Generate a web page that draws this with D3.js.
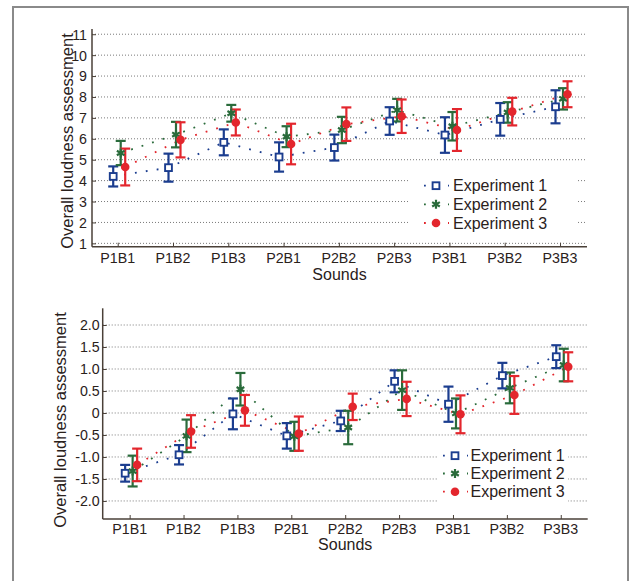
<!DOCTYPE html>
<html><head><meta charset="utf-8">
<script src="https://cdn.jsdelivr.net/npm/d3@7/dist/d3.min.js"></script>
<style>body{margin:0;background:#fff}svg{display:block}text{font-family:"Liberation Sans",Arial,sans-serif;fill:#2a211b}</style>
</head><body><svg id="c" width="630" height="581"></svg>
<script>
const categories = ["P1B1","P1B2","P1B3","P2B1","P2B2","P2B3","P3B1","P3B2","P3B3"];
const seriesNames = ["Experiment 1","Experiment 2","Experiment 3"];
// Top panel: means and error half-lengths
const topExp1 = [4.2, 4.62, 5.83, 5.13, 5.58, 6.85, 6.18, 6.93, 7.53];
const topExp1Err = [0.48, 0.67, 0.62, 0.7, 0.62, 0.66, 0.85, 0.78, 0.79];
const topExp2 = [5.32, 6.2, 7.22, 6.1, 6.42, 7.37, 6.6, 7.26, 7.91];
const topExp2Err = [0.58, 0.61, 0.4, 0.5, 0.63, 0.54, 0.68, 0.49, 0.51];
const topExp3 = [4.65, 5.95, 6.78, 5.75, 6.7, 7.08, 6.42, 7.3, 8.13];
const topExp3Err = [0.88, 0.84, 0.62, 0.97, 0.8, 0.8, 1.0, 0.66, 0.62];
const topTicks = [1,2,3,4,5,6,7,8,9,10,11];
// Bottom panel
const botExp1 = [-1.37, -0.95, -0.02, -0.52, -0.18, 0.72, 0.2, 0.85, 1.28];
const botExp1Err = [0.19, 0.22, 0.35, 0.29, 0.23, 0.25, 0.4, 0.29, 0.26];
const botExp2 = [-1.32, -0.52, 0.54, -0.53, -0.33, 0.52, -0.01, 0.57, 1.09];
const botExp2Err = [0.35, 0.37, 0.37, 0.33, 0.38, 0.45, 0.34, 0.35, 0.37];
const botExp3 = [-1.18, -0.42, 0.06, -0.47, 0.14, 0.32, -0.03, 0.41, 1.05];
const botExp3Err = [0.37, 0.37, 0.35, 0.39, 0.3, 0.39, 0.43, 0.43, 0.33];
const botTicks = [-2, -1.5, -1, -0.5, 0, 0.5, 1, 1.5, 2];

const colors = ["#1b3d8f", "#2a6b3b", "#e3262d"];
const offsets = [-4.5, 3, 7.5];
const svg = d3.select("#c");

// outer frame
svg.append("rect").attr("x",13).attr("y",7).attr("width",615).attr("height",640)
  .attr("fill","none").attr("stroke","#8a8a8a").attr("stroke-width",2);

function marker(g, k, x, y) {
  const c = colors[k];
  if (k === 0) {
    g.append("rect").attr("x", x-3.4).attr("y", y-3.4).attr("width",6.8).attr("height",6.8)
      .attr("fill","#fff").attr("stroke",c).attr("stroke-width",1.9);
  } else if (k === 1) {
    g.append("path").attr("d", d3.symbol(d3.symbolAsterisk, 55)())
      .attr("transform",`translate(${x},${y})`).attr("fill","none").attr("stroke",c).attr("stroke-width",2.2);
    g.append("circle").attr("cx",x).attr("cy",y).attr("r",2).attr("fill",c);
  } else {
    g.append("circle").attr("cx",x).attr("cy",y).attr("r",4.3).attr("fill",c);
  }
}

function panel(cfg) {
  const g = svg.append("g");
  const x = d3.scaleLinear().domain(cfg.xdom).range(cfg.xr);
  const y = d3.scaleLinear().domain(cfg.ydom).range(cfg.yr);
  // gridlines
  g.selectAll(".grid").data(cfg.ticks).join("line")
    .attr("x1", cfg.xr[0]).attr("x2", cfg.xr[1])
    .attr("y1", d=>y(d)).attr("y2", d=>y(d))
    .attr("stroke","#7a7a7a").attr("stroke-width",1).attr("stroke-dasharray","1,2");
  // legend background
  g.append("rect").attr("x",cfg.leg.box[0]).attr("y",cfg.leg.box[1])
    .attr("width",cfg.leg.box[2]).attr("height",cfg.leg.box[3]).attr("fill","#fff");
  // axes
  const ax = d3.axisBottom(x).tickValues(d3.range(1,10)).tickFormat(i=>categories[i-1]).tickSize(-4).tickPadding(0);
  const gx = g.append("g").attr("transform",`translate(0,${cfg.yr[0]})`).call(ax);
  gx.select(".domain").remove();
  gx.selectAll("line").attr("stroke","#4a4038");
  gx.selectAll("text").remove();
  g.append("g").selectAll("text").data(categories).join("text")
    .attr("transform",(d,i)=>`translate(${x(i+1)},${cfg.xLabelY}) scale(0.95,1)`).attr("text-anchor","middle")
    .attr("font-size",15).text(d=>d);
  const ay = d3.axisLeft(y).tickValues(cfg.ticks).tickSize(-4).tickPadding(0);
  const gy = g.append("g").attr("transform",`translate(${cfg.xr[0]},0)`).call(ay);
  gy.select(".domain").remove();
  gy.selectAll("line").attr("stroke","#4a4038");
  gy.selectAll("text").remove();
  g.append("g").selectAll("text").data(cfg.ticks).join("text")
    .attr("transform",d=>`translate(${cfg.xr[0]-cfg.yLabelGap},${y(d)}) scale(0.95,1)`).attr("dy","0.36em")
    .attr("text-anchor","end").attr("font-size",15).text(cfg.fmt);
  g.append("line").attr("x1",cfg.xr[0]).attr("x2",cfg.xr[0]).attr("y1",cfg.yr[0]).attr("y2",cfg.yr[1])
    .attr("stroke","#4a4038").attr("stroke-width",1.5);
  g.append("line").attr("x1",cfg.xr[0]).attr("x2",cfg.xr[1]).attr("y1",cfg.yr[0]).attr("y2",cfg.yr[0])
    .attr("stroke","#4a4038").attr("stroke-width",1.5);
  g.append("text").attr("x",(cfg.xr[0]+cfg.xr[1])/2).attr("y",cfg.soundsY).attr("text-anchor","middle")
    .attr("font-size",16).text("Sounds");
  g.append("text").attr("transform",`translate(${cfg.ylab[0]},${cfg.ylab[1]}) rotate(-90)`)
    .attr("text-anchor","middle").attr("font-size",16.5).text("Overall loudness assessment");

  // series
  cfg.series.forEach((s,k)=>{
    const pts = s.mean.map((m,i)=>[x(i+1)+offsets[k], y(m)]);
    g.append("path").attr("d", d3.line()(pts)).attr("fill","none").attr("stroke",colors[k])
      .attr("stroke-width",1.8).attr("stroke-dasharray","1.8,9.2");
  });
  cfg.series.forEach((s,k)=>{
    const c = colors[k];
    s.mean.forEach((m,i)=>{
      const cx = x(i+1)+offsets[k];
      const y0 = y(m - s.err[i]), y1 = y(m + s.err[i]);
      g.append("line").attr("x1",cx).attr("x2",cx).attr("y1",y0).attr("y2",y1).attr("stroke",c).attr("stroke-width",2.2);
      [y0,y1].forEach(yy=>g.append("line").attr("x1",cx-5).attr("x2",cx+5).attr("y1",yy).attr("y2",yy)
        .attr("stroke",c).attr("stroke-width",2.2));
    });
  });
  cfg.series.forEach((s,k)=>{
    s.mean.forEach((m,i)=>marker(g,k,x(i+1)+offsets[k],y(m)));
  });
  // legend
  seriesNames.forEach((name,k)=>{
    const ly = cfg.leg.rows[k], lx = cfg.leg.mx;
    g.append("line").attr("x1",lx-12).attr("x2",lx+13).attr("y1",ly).attr("y2",ly)
      .attr("stroke",colors[k]).attr("stroke-width",1.8).attr("stroke-dasharray","1.8,10.2");
    marker(g,k,lx,ly);
    g.append("text").attr("x",cfg.leg.tx).attr("y",ly).attr("dy","0.36em").attr("font-size",16).text(name);
  });
}

panel({
  xdom:[0.535, 9.488], xr:[92, 587], ydom:[0.84, 11.25], yr:[246.7, 29],
  ticks: topTicks, fmt: d=>String(d), yLabelGap: 5, xLabelY: 263, soundsY: 280,
  ylab:[73, 141],
  series:[{mean:topExp1, err:topExp1Err},{mean:topExp2, err:topExp2Err},{mean:topExp3, err:topExp3Err}],
  leg:{box:[408,172,169,61], rows:[185.7,204.3,223], mx:436, tx:453}
});
panel({
  xdom:[0.5, 9.5], xr:[102.7, 587.7], ydom:[-2.41, 2.38], yr:[519, 308.3],
  ticks: botTicks, fmt: d=> d===0 ? "0" : d.toFixed(1), yLabelGap: 3, xLabelY: 534, soundsY: 550,
  ylab:[65.5, 420],
  series:[{mean:botExp1, err:botExp1Err},{mean:botExp2, err:botExp2Err},{mean:botExp3, err:botExp3Err}],
  leg:{box:[438,445,130,63], rows:[455.7,473.5,491.7], mx:455, tx:470.5}
});
</script></body></html>
